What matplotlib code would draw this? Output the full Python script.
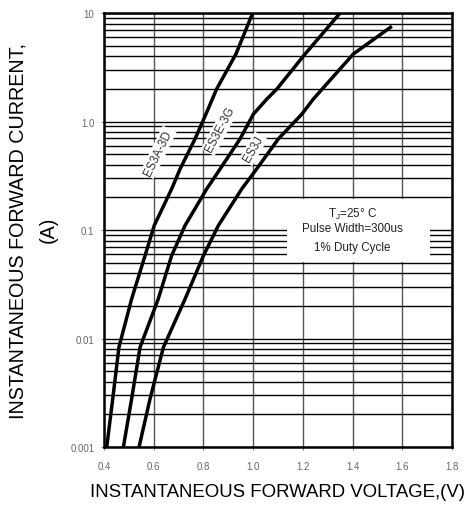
import numpy as np
import matplotlib
matplotlib.use("Agg")
import matplotlib.pyplot as plt
from matplotlib.patches import Rectangle
from matplotlib.ticker import FixedLocator, LogLocator, NullFormatter

plt.rcParams["font.family"] = ["Liberation Sans", "DejaVu Sans"]

# forward voltage (V) / forward current (A)
v_3a3d = [0.411, 0.435, 0.460, 0.511, 0.565, 0.602, 0.672, 0.706, 0.766,
          0.810, 0.853, 0.931, 0.998]
i_3a3d = [0.001, 0.00277, 0.0083, 0.0231, 0.058, 0.110, 0.239, 0.365, 0.69,
          1.17, 1.99, 4.19, 10.0]

v_3e3g = [0.478, 0.511, 0.545, 0.618, 0.672, 0.726, 0.813, 0.867, 0.947,
          1.001, 1.055, 1.095, 1.209, 1.350]
i_3e3g = [0.001, 0.00277, 0.0083, 0.0231, 0.058, 0.110, 0.239, 0.365, 0.69,
          1.17, 1.61, 1.99, 4.19, 10.0]

v_3j = [0.541, 0.585, 0.639, 0.726, 0.800, 0.860, 0.954, 1.014, 1.101,
        1.196, 1.242, 1.403, 1.558]
i_3j = [0.001, 0.00277, 0.0083, 0.0231, 0.058, 0.110, 0.239, 0.365, 0.69,
        1.17, 1.61, 4.19, 7.54]

x_ticks = [0.4, 0.6, 0.8, 1.0, 1.2, 1.4, 1.6, 1.8]
x_labels = ["0.4", "0.6", "0.8", "1.0", "1.2", "1.4", "1.6", "1.8"]
y_ticks = [0.001, 0.01, 0.1, 1.0, 10.0]
y_labels = ["0.001", "0.01", "0.1", "1.0", "10"]

fig = plt.figure(figsize=(4.7, 5.06), dpi=100, facecolor="white")
ax = fig.add_axes([0.2213, 0.1146, 0.7404, 0.8577])
ax.set_yscale("log")
ax.set_xlim(0.4, 1.8)
ax.set_ylim(0.001, 10)

# grid: horizontal log minor lines black, vertical lines grey
ax.yaxis.set_major_locator(FixedLocator(y_ticks))
ax.yaxis.set_minor_locator(LogLocator(base=10, subs=np.arange(2, 10)))
ax.yaxis.set_minor_formatter(NullFormatter())
ax.set_yticks(y_ticks)
ax.set_yticklabels(y_labels)
ax.set_xticks(x_ticks)
ax.set_xticklabels(x_labels)
ax.grid(True, which="both", axis="y", color="black", linewidth=1.0, zorder=1)
ax.grid(True, which="major", axis="x", color="#555555", linewidth=1.0, zorder=1)
ax.tick_params(axis="both", which="major", labelsize=7, colors="#666666",
               length=2, width=0.6)
ax.tick_params(axis="x", pad=8)
ax.tick_params(axis="y", pad=5)
ax.tick_params(axis="y", which="minor", length=0)
for s in ax.spines.values():
    s.set_linewidth(1.8)
    s.set_color("black")
    s.set_zorder(6)

for v, i in [(v_3a3d, i_3a3d), (v_3e3g, i_3e3g), (v_3j, i_3j)]:
    ax.plot(v, i, color="black", linewidth=2.5, solid_capstyle="butt", zorder=5)

box = dict(facecolor="white", edgecolor="none", pad=1.2)
ax.text(0.618, 0.52, "ES3A-3D", rotation=64, fontsize=8.5, ha="center", va="center",
        color="#333333", bbox=box, zorder=3)
ax.text(0.867, 0.85, "ES3E-3G", rotation=62, fontsize=8.5, ha="center", va="center",
        color="#333333", bbox=box, zorder=3)
ax.text(1.001, 0.56, "ES3J", rotation=60, fontsize=8.5, ha="center", va="center",
        color="#333333", bbox=box, zorder=3)

# condition note on a white patch
ax.add_patch(Rectangle((1.136, 0.0507), 1.711 - 1.136, 0.193 - 0.0507,
                       facecolor="white", edgecolor="none", zorder=2))
note_kw = dict(fontsize=8.4, ha="center", va="center", color="#222222", zorder=3)
ax.text(1.40, 0.143, "T$_\\mathregular{J}$=25° C", **note_kw)
ax.text(1.40, 0.1045, "Pulse Width=300us", **note_kw)
ax.text(1.40, 0.0697, "1% Duty Cycle", **note_kw)

fig.text(0.591, 0.026, "INSTANTANEOUS FORWARD VOLTAGE,(V)", fontsize=13.4,
         ha="center", va="center")
fig.text(0.038, 0.5425, "INSTANTANEOUS FORWARD CURRENT,", rotation=90,
         fontsize=14.2, ha="center", va="center")
fig.text(0.102, 0.545, "(A)", rotation=90, fontsize=14.2, ha="center", va="center")

fig.savefig("out.png", dpi=100, facecolor="white")
